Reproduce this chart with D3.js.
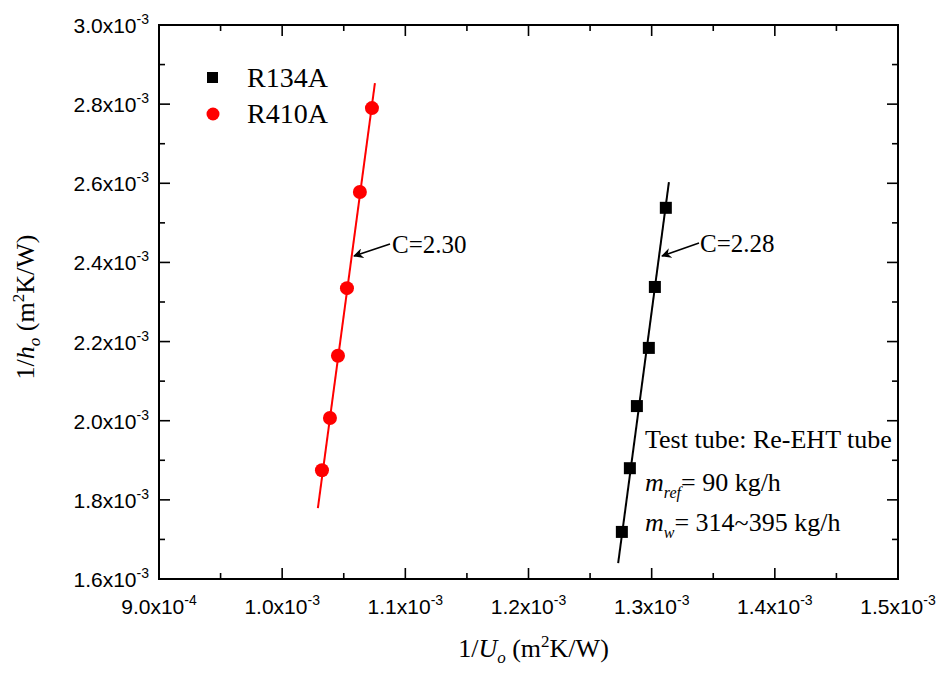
<!DOCTYPE html>
<html>
<head>
<meta charset="utf-8">
<script src="https://cdn.jsdelivr.net/npm/d3@7"></script>
<style>
  body { margin: 0; background: #fff; }
  svg { display: block; }
</style>
</head>
<body>
<div id="chart"></div>
<script>
// 1/h_o against 1/U_o for the two refrigerants, with fitted lines
const r134aX = [1.2758e-3, 1.2823e-3, 1.2880e-3, 1.2977e-3, 1.3026e-3, 1.3115e-3];
const r134aY = [1.719e-3, 1.880e-3, 2.037e-3, 2.184e-3, 2.338e-3, 2.538e-3];
const r410aX = [1.0323e-3, 1.0388e-3, 1.0453e-3, 1.0526e-3, 1.0631e-3, 1.0729e-3];
const r410aY = [1.875e-3, 2.007e-3, 2.164e-3, 2.335e-3, 2.578e-3, 2.790e-3];

// fitted line ends
const r134aFitX = [1.2728e-3, 1.3140e-3];
const r134aFitY = [1.640e-3, 2.603e-3];
const r410aFitX = [1.0290e-3, 1.0753e-3];
const r410aFitY = [1.779e-3, 2.853e-3];

const xTicks = [9e-4, 1.0e-3, 1.1e-3, 1.2e-3, 1.3e-3, 1.4e-3, 1.5e-3];
const yTicks = [1.6e-3, 1.8e-3, 2.0e-3, 2.2e-3, 2.4e-3, 2.6e-3, 2.8e-3, 3.0e-3];

const width = 943, height = 678;
const margin = {top: 25, right: 45, bottom: 99, left: 159};

const svg = d3.select("#chart").append("svg")
    .attr("width", width)
    .attr("height", height);

const x = d3.scaleLinear()
    .domain([9e-4, 1.5e-3])
    .range([margin.left, width - margin.right]);
const y = d3.scaleLinear()
    .domain([1.6e-3, 3.0e-3])
    .range([height - margin.bottom, margin.top]);

const majorLen = 11, minorLen = 6;
const tickFont = "'Liberation Sans', Arial, sans-serif";
const serif = "'Liberation Serif', 'Times New Roman', serif";

// minor ticks sit halfway between major ones
const xMinor = d3.pairs(xTicks).map(([a, b]) => (a + b) / 2);
const yMinor = d3.pairs(yTicks).map(([a, b]) => (a + b) / 2);

function sci(v) {
  const e = Math.floor(Math.log10(v) + 1e-9);
  const m = v / Math.pow(10, e);
  return [m.toFixed(1) + "x10", String(e)];
}

const ticks = svg.append("g")
    .attr("stroke", "#000")
    .attr("stroke-width", 1.6);

const x0 = x.range()[0], x1 = x.range()[1];
const y0 = y.range()[0], y1 = y.range()[1];

// bottom + top ticks, pointing inward
[[xTicks, majorLen], [xMinor, minorLen]].forEach(([vals, len]) => {
  ticks.selectAll(null).data(vals).join("line")
      .attr("x1", d => x(d)).attr("x2", d => x(d))
      .attr("y1", y0).attr("y2", y0 - len);
  ticks.selectAll(null).data(vals).join("line")
      .attr("x1", d => x(d)).attr("x2", d => x(d))
      .attr("y1", y1).attr("y2", y1 + len);
});
// left + right ticks
[[yTicks, majorLen], [yMinor, minorLen]].forEach(([vals, len]) => {
  ticks.selectAll(null).data(vals).join("line")
      .attr("y1", d => y(d)).attr("y2", d => y(d))
      .attr("x1", x0).attr("x2", x0 + len);
  ticks.selectAll(null).data(vals).join("line")
      .attr("y1", d => y(d)).attr("y2", d => y(d))
      .attr("x1", x1).attr("x2", x1 - len);
});

// frame
svg.append("rect")
    .attr("x", x0).attr("y", y1)
    .attr("width", x1 - x0).attr("height", y0 - y1)
    .attr("fill", "none")
    .attr("stroke", "#000")
    .attr("stroke-width", 2);

// x tick labels
const xl = svg.append("g")
    .attr("font-family", tickFont)
    .attr("font-size", 21)
    .attr("fill", "#000")
  .selectAll("text")
  .data(xTicks)
  .join("text")
    .attr("x", d => x(d))
    .attr("y", y0 + 35)
    .attr("text-anchor", "middle");
xl.append("tspan").text(d => sci(d)[0]);
xl.append("tspan").attr("dy", -9).attr("font-size", 14).text(d => sci(d)[1]);

// y tick labels
const yl = svg.append("g")
    .attr("font-family", tickFont)
    .attr("font-size", 21)
    .attr("fill", "#000")
  .selectAll("text")
  .data(yTicks)
  .join("text")
    .attr("x", x0 - 10)
    .attr("y", d => y(d) + 8)
    .attr("text-anchor", "end");
yl.append("tspan").text(d => sci(d)[0]);
yl.append("tspan").attr("dy", -9).attr("font-size", 14).text(d => sci(d)[1]);

// axis titles
const xt = svg.append("text")
    .attr("x", (x0 + x1) / 2 + 5)
    .attr("y", 657)
    .attr("text-anchor", "middle")
    .attr("font-family", serif)
    .attr("font-size", 26);
xt.append("tspan").text("1/");
xt.append("tspan").attr("font-style", "italic").text("U");
xt.append("tspan").attr("font-style", "italic").attr("font-size", 17).attr("dy", 6).text("o");
xt.append("tspan").attr("dy", -6).text(" (m");
xt.append("tspan").attr("font-size", 17).attr("dy", -10).text("2");
xt.append("tspan").attr("dy", 10).text("K/W)");

const yt = svg.append("text")
    .attr("transform", `translate(34,${(y0 + y1) / 2 + 5}) rotate(-90)`)
    .attr("text-anchor", "middle")
    .attr("font-family", serif)
    .attr("font-size", 26);
yt.append("tspan").text("1/");
yt.append("tspan").attr("font-style", "italic").text("h");
yt.append("tspan").attr("font-style", "italic").attr("font-size", 17).attr("dy", 6).text("o");
yt.append("tspan").attr("dy", -6).text(" (m");
yt.append("tspan").attr("font-size", 17).attr("dy", -10).text("2");
yt.append("tspan").attr("dy", 10).text("K/W)");

// fitted lines
const line = d3.line().x(d => x(d[0])).y(d => y(d[1]));
svg.append("path")
    .datum(d3.zip(r410aFitX, r410aFitY))
    .attr("d", line)
    .attr("fill", "none")
    .attr("stroke", "#ff0000")
    .attr("stroke-width", 2);
svg.append("path")
    .datum(d3.zip(r134aFitX, r134aFitY))
    .attr("d", line)
    .attr("fill", "none")
    .attr("stroke", "#000")
    .attr("stroke-width", 2);

// markers
const sq = 12;
svg.append("g").selectAll("rect")
  .data(d3.zip(r134aX, r134aY))
  .join("rect")
    .attr("x", d => x(d[0]) - sq / 2)
    .attr("y", d => y(d[1]) - sq / 2)
    .attr("width", sq).attr("height", sq)
    .attr("fill", "#000");
svg.append("g").selectAll("circle")
  .data(d3.zip(r410aX, r410aY))
  .join("circle")
    .attr("cx", d => x(d[0]))
    .attr("cy", d => y(d[1]))
    .attr("r", 7)
    .attr("fill", "#ff0000");

// legend
const legend = svg.append("g")
    .attr("font-family", serif)
    .attr("font-size", 28);
legend.append("rect")
    .attr("x", 207).attr("y", 72).attr("width", 11).attr("height", 11)
    .attr("fill", "#000");
legend.append("text").attr("x", 247).attr("y", 87).text("R134A");
legend.append("circle")
    .attr("cx", 213).attr("cy", 114).attr("r", 6.5)
    .attr("fill", "#ff0000");
legend.append("text").attr("x", 247).attr("y", 123).text("R410A");

// slope annotations with arrows
svg.append("defs").append("marker")
    .attr("id", "arrow")
    .attr("viewBox", "0 0 10 10")
    .attr("refX", 9).attr("refY", 5)
    .attr("markerWidth", 10).attr("markerHeight", 10)
    .attr("markerUnits", "userSpaceOnUse")
    .attr("orient", "auto")
  .append("path")
    .attr("d", "M0,0 L10,5 L0,10 L3,5 Z")
    .attr("fill", "#000");

const notes = [
  {label: "C=2.30", tx: 392, ty: 253, from: [390, 244], to: [354, 256]},
  {label: "C=2.28", tx: 700, ty: 252, from: [699, 243], to: [662, 256]}
];
notes.forEach(n => {
  svg.append("line")
      .attr("x1", n.from[0]).attr("y1", n.from[1])
      .attr("x2", n.to[0]).attr("y2", n.to[1])
      .attr("stroke", "#000")
      .attr("stroke-width", 1.6)
      .attr("marker-end", "url(#arrow)");
  svg.append("text")
      .attr("x", n.tx).attr("y", n.ty)
      .attr("font-family", serif)
      .attr("font-size", 25)
      .text(n.label);
});

// test conditions
const info = svg.append("g")
    .attr("font-family", serif)
    .attr("font-size", 26);
info.append("text").attr("x", 645).attr("y", 448).text("Test tube: Re-EHT tube");
const m1 = info.append("text").attr("x", 645).attr("y", 491);
m1.append("tspan").attr("font-style", "italic").text("m");
m1.append("tspan").attr("font-style", "italic").attr("font-size", 16).attr("dy", 7).text("ref");
m1.append("tspan").attr("dy", -7).text("= 90 kg/h");
const m2 = info.append("text").attr("x", 645).attr("y", 531);
m2.append("tspan").attr("font-style", "italic").text("m");
m2.append("tspan").attr("font-style", "italic").attr("font-size", 16).attr("dy", 7).text("w");
m2.append("tspan").attr("dy", -7).text("= 314~395 kg/h");
</script>
</body>
</html>
